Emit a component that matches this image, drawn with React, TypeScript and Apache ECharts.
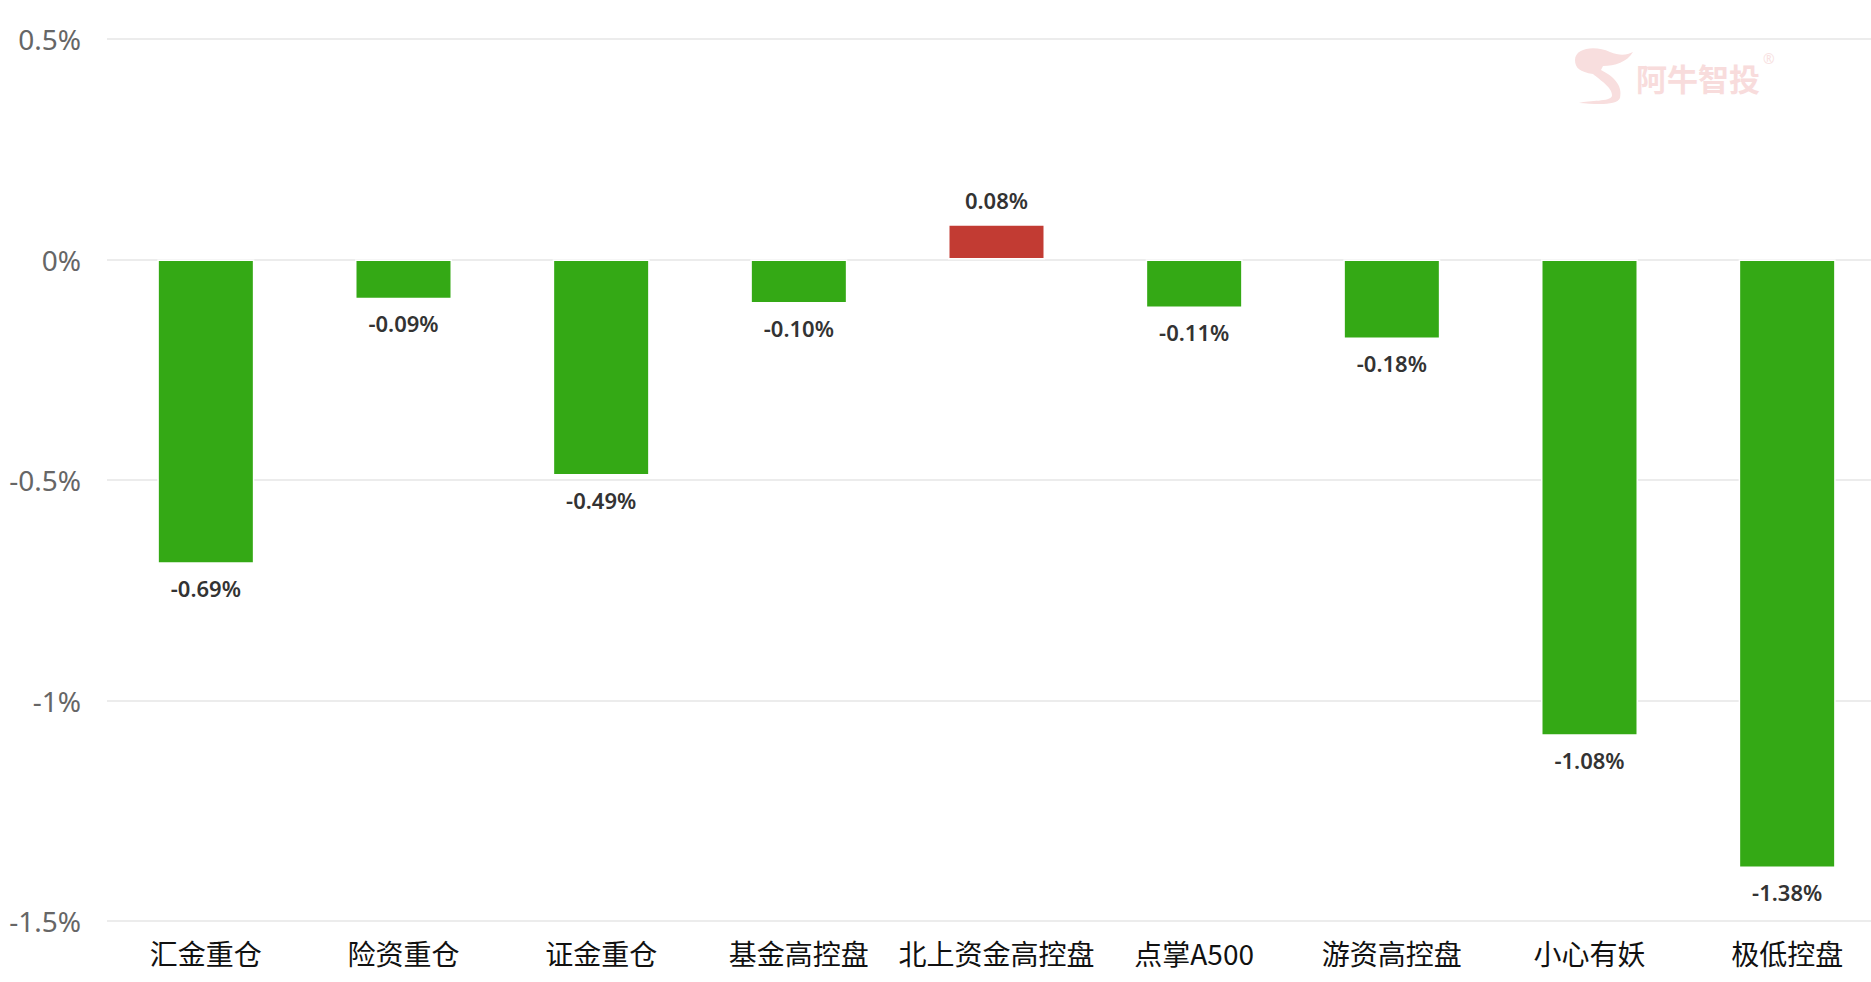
import React, { useEffect, useRef } from "react";
import * as echarts from "echarts";

const categories = ["汇金重仓", "险资重仓", "证金重仓", "基金高控盘", "北上资金高控盘", "点掌A500", "游资高控盘", "小心有妖", "极低控盘"];
const values = [-0.69, -0.09, -0.49, -0.1, 0.08, -0.11, -0.18, -1.08, -1.38];
const yTicks = { min: -1.5, max: 0.5, interval: 0.5 };
const watermarkText = "阿牛智投";

const UP = "#c23b33";
const DOWN = "#34a915";

const logoPath =
  "M 10 20 C 10 8, 30 5, 45 12 C 55 16, 62 15, 68 12 C 62 22, 50 26, 38 26 L 36 30 C 48 36, 58 45, 55 58 C 52 66, 30 64, 14 63 C 25 60, 45 62, 47 56 C 48 48, 35 40, 28 34 C 15 32, 10 28, 10 20 Z";

let registered = false;

export default function App() {
  const ref = useRef<HTMLDivElement>(null);
  useEffect(() => {
    if (!ref.current) return;
    if (!registered) {
      echarts.graphic.registerShape("logo", echarts.graphic.extendPath(logoPath, {}));
      registered = true;
    }
    const chart = echarts.init(ref.current, null, { renderer: "svg" });
    chart.setOption({
      animation: false,
      backgroundColor: "#ffffff",
      grid: { left: 107, top: 39, right: 0, bottom: 61, containLabel: false },
      xAxis: {
        type: "category",
        data: categories,
        axisLine: { show: false },
        axisTick: { show: false },
        axisLabel: {
          interval: 0,
          color: "#111",
          fontSize: 28,
          margin: 18,
          fontFamily: "'Noto Sans CJK SC', 'Noto Sans', sans-serif",
        },
      },
      yAxis: {
        type: "value",
        min: yTicks.min,
        max: yTicks.max,
        interval: yTicks.interval,
        axisLine: { show: false },
        axisTick: { show: false },
        splitLine: { lineStyle: { color: "#e6e6e6", width: 1.5 } },
        axisLabel: {
          color: "#666",
          fontSize: 28,
          margin: 26,
          padding: [0, 0, 5, 0],
          fontFamily: "'Noto Sans', sans-serif",
          formatter: (v: number) => `${Math.round(v * 10) / 10}%`,
        },
      },
      series: [
        {
          type: "bar",
          barWidth: 97,
          data: values.map((v) => ({
            value: v,
            itemStyle: { color: v >= 0 ? UP : DOWN, borderColor: "#ffffff", borderWidth: 1.5 },
            label: { position: v >= 0 ? "top" : "bottom" },
          })),
          label: {
            show: true,
            distance: 13,
            color: "#333",
            fontSize: 22,
            fontWeight: 600,
            fontFamily: "'Noto Sans', sans-serif",
            formatter: (p: any) => `${p.value.toFixed(2)}%`,
          },
        },
      ],
      graphic: [
        {
          type: "logo",
          x: 1565,
          y: 40,
          scaleX: 1,
          scaleY: 1,
          style: { fill: "#f8dede" },
          silent: true,
        },
        {
          type: "text",
          x: 1636,
          y: 62,
          style: {
            text: watermarkText,
            fill: "#f8dcdc",
            fontSize: 31,
            fontWeight: "bold",
            fontFamily: "'Noto Sans CJK SC', sans-serif",
          },
          silent: true,
        },
        {
          type: "text",
          x: 1763,
          y: 51,
          style: {
            text: "®",
            fill: "#f8e2e2",
            fontSize: 14,
            fontFamily: "'Noto Sans', sans-serif",
          },
          silent: true,
        },
      ],
    });
    return () => chart.dispose();
  }, []);
  return (
    <div style={{ position: "fixed", left: 0, top: 0, width: 1871, height: 982, overflow: "hidden", background: "#fff" }}>
      <div ref={ref} style={{ width: 1886, height: 982 }} />
    </div>
  );
}
